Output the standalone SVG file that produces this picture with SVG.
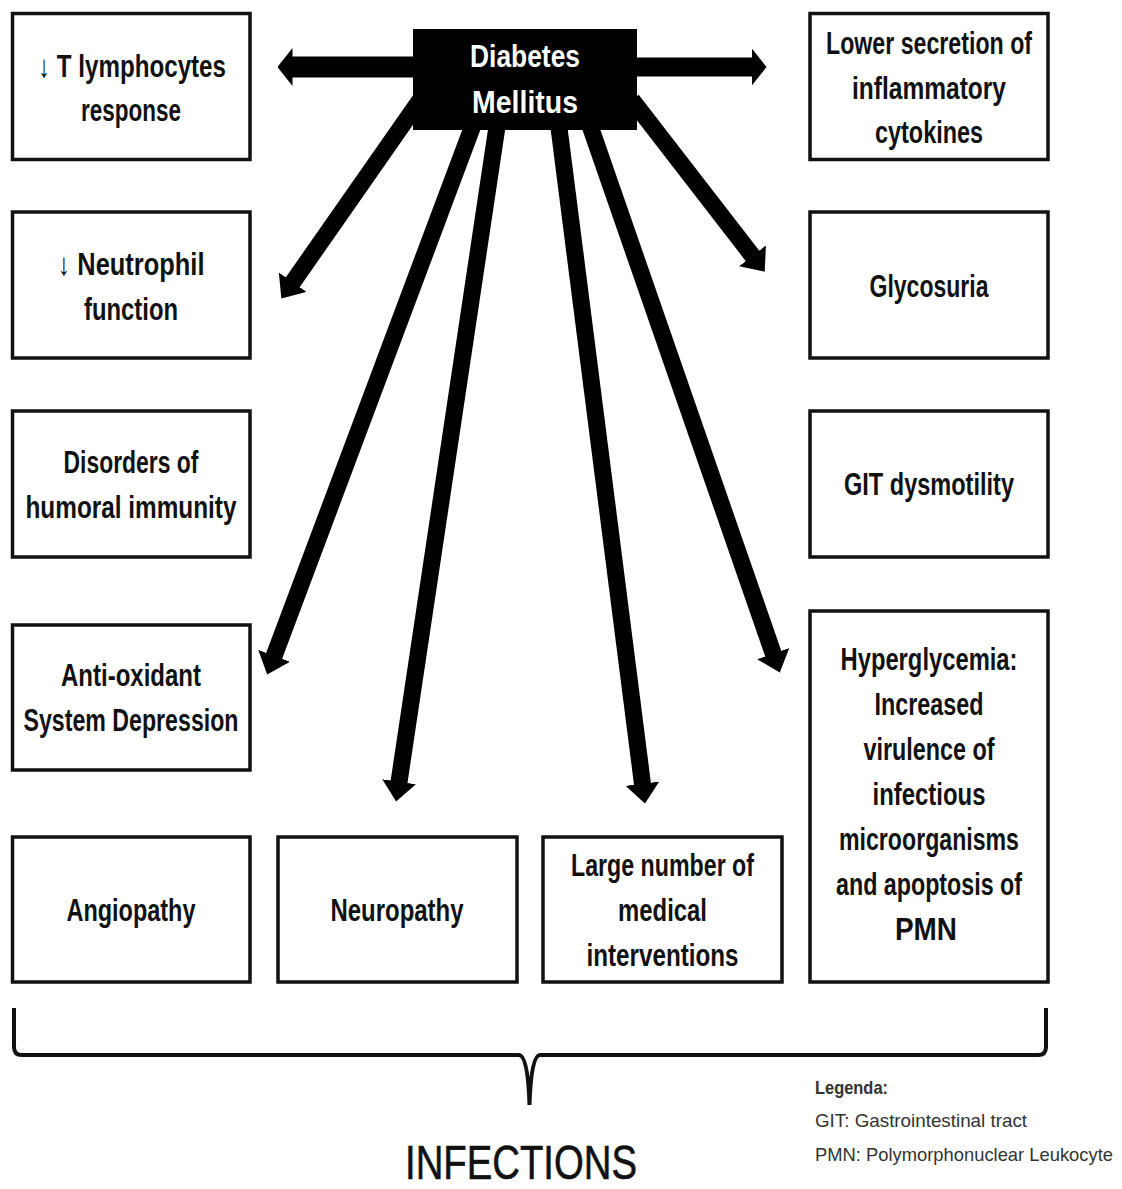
<svg xmlns="http://www.w3.org/2000/svg" width="1122" height="1189" viewBox="0 0 1122 1189">
<defs>
<style>
.box{fill:#fff;stroke:#111;stroke-width:3.5}
.lbl{font-family:"Liberation Sans Narrow","Liberation Sans",Arial,sans-serif;font-weight:bold;font-size:31px;fill:#111;text-anchor:middle}
.wl{fill:#fff;font-size:32px}
.arr{stroke:#000;fill:none}
.leg{font-family:"Liberation Sans Narrow","Liberation Sans",Arial,sans-serif;font-size:18.5px;fill:#333}
</style>
<marker id="hh" markerUnits="userSpaceOnUse" markerWidth="15" markerHeight="38" viewBox="0 0 15 38" refX="0.5" refY="19" orient="auto"><path d="M0,0 L15,19 L0,38 z" fill="#000"/></marker>
<marker id="hd" markerUnits="userSpaceOnUse" markerWidth="20" markerHeight="34" viewBox="0 0 20 34" refX="0.5" refY="17" orient="auto"><path d="M0,0 L20,17 L0,34 z" fill="#000"/></marker>
</defs>
<rect width="1122" height="1189" fill="#fff"/>

<g id="connectors">
<line class="arr" x1="415" y1="67" x2="292" y2="67" stroke-width="21" marker-end="url(#hh)"/>
<line class="arr" x1="635" y1="67" x2="752" y2="67" stroke-width="19" marker-end="url(#hh)"/>
<line class="arr" x1="420" y1="100" x2="292.5" y2="282.6" stroke-width="17" marker-end="url(#hd)"/>
<line class="arr" x1="475" y1="120" x2="274" y2="656.3" stroke-width="17" marker-end="url(#hd)"/>
<line class="arr" x1="498" y1="120" x2="399" y2="782.2" stroke-width="17" marker-end="url(#hd)"/>
<line class="arr" x1="558" y1="120" x2="642.5" y2="784.2" stroke-width="17" marker-end="url(#hd)"/>
<line class="arr" x1="588" y1="120" x2="773.4" y2="654.1" stroke-width="17" marker-end="url(#hd)"/>
<line class="arr" x1="632" y1="100" x2="752.8" y2="256.2" stroke-width="17" marker-end="url(#hd)"/>
</g>

<g id="dm">
<rect x="413" y="29" width="224" height="101" fill="#000"/>
<text class="lbl wl" x="525" y="67" textLength="110" lengthAdjust="spacingAndGlyphs">Diabetes</text>
<text class="lbl wl" x="525" y="113" textLength="106" lengthAdjust="spacingAndGlyphs">Mellitus</text>
</g>

<g id="tlymph">
<rect class="box" x="12.5" y="13.5" width="237.5" height="146"/>
<text class="lbl" x="132" y="77" textLength="188" lengthAdjust="spacingAndGlyphs">↓ T lymphocytes</text>
<text class="lbl" x="131" y="121" textLength="100" lengthAdjust="spacingAndGlyphs">response</text>
</g>

<g id="neutrophil">
<rect class="box" x="12.5" y="212" width="237.5" height="146"/>
<text class="lbl" x="131" y="275" textLength="147" lengthAdjust="spacingAndGlyphs">↓ Neutrophil</text>
<text class="lbl" x="131" y="320" textLength="94" lengthAdjust="spacingAndGlyphs">function</text>
</g>

<g id="humoral">
<rect class="box" x="12.5" y="411" width="237.5" height="146"/>
<text class="lbl" x="131" y="473" textLength="135" lengthAdjust="spacingAndGlyphs">Disorders of</text>
<text class="lbl" x="131" y="518" textLength="211" lengthAdjust="spacingAndGlyphs">humoral immunity</text>
</g>

<g id="antioxidant">
<rect class="box" x="12.5" y="625" width="237.5" height="145"/>
<text class="lbl" x="131" y="686" textLength="140" lengthAdjust="spacingAndGlyphs">Anti-oxidant</text>
<text class="lbl" x="131" y="731" textLength="215" lengthAdjust="spacingAndGlyphs">System Depression</text>
</g>

<g id="angiopathy">
<rect class="box" x="12.5" y="837" width="237.5" height="145"/>
<text class="lbl" x="131" y="921" textLength="129" lengthAdjust="spacingAndGlyphs">Angiopathy</text>
</g>

<g id="neuropathy">
<rect class="box" x="278" y="837" width="239" height="145"/>
<text class="lbl" x="397" y="921" textLength="133" lengthAdjust="spacingAndGlyphs">Neuropathy</text>
</g>

<g id="interventions">
<rect class="box" x="543" y="837" width="239" height="145"/>
<text class="lbl" x="662.5" y="876" textLength="183" lengthAdjust="spacingAndGlyphs">Large number of</text>
<text class="lbl" x="662.5" y="921" textLength="89" lengthAdjust="spacingAndGlyphs">medical</text>
<text class="lbl" x="662.5" y="966" textLength="152" lengthAdjust="spacingAndGlyphs">interventions</text>
</g>

<g id="cytokines">
<rect class="box" x="810" y="13.5" width="238" height="146"/>
<text class="lbl" x="929" y="54" textLength="206" lengthAdjust="spacingAndGlyphs">Lower secretion of</text>
<text class="lbl" x="929" y="99" textLength="154" lengthAdjust="spacingAndGlyphs">inflammatory</text>
<text class="lbl" x="929" y="143" textLength="108" lengthAdjust="spacingAndGlyphs">cytokines</text>
</g>

<g id="glycosuria">
<rect class="box" x="810" y="212" width="238" height="146"/>
<text class="lbl" x="929" y="297" textLength="119" lengthAdjust="spacingAndGlyphs">Glycosuria</text>
</g>

<g id="git">
<rect class="box" x="810" y="411" width="238" height="146"/>
<text class="lbl" x="929" y="495" textLength="170" lengthAdjust="spacingAndGlyphs">GIT dysmotility</text>
</g>

<g id="hyperglycemia">
<rect class="box" x="810" y="611" width="238" height="371"/>
<text class="lbl" x="929" y="670" textLength="177" lengthAdjust="spacingAndGlyphs">Hyperglycemia:</text>
<text class="lbl" x="929" y="715" textLength="109" lengthAdjust="spacingAndGlyphs">Increased</text>
<text class="lbl" x="929" y="760" textLength="131" lengthAdjust="spacingAndGlyphs">virulence of</text>
<text class="lbl" x="929" y="805" textLength="113" lengthAdjust="spacingAndGlyphs">infectious</text>
<text class="lbl" x="929" y="850" textLength="180" lengthAdjust="spacingAndGlyphs">microorganisms</text>
<text class="lbl" x="929" y="895" textLength="186" lengthAdjust="spacingAndGlyphs">and apoptosis of</text>
<text class="lbl" x="926" y="940" textLength="62" lengthAdjust="spacingAndGlyphs">PMN</text>
</g>

<g id="brace">
<path d="M14,1008 V1047 Q14,1055 22,1055 H519 Q528,1055 529.5,1105 Q531,1055 540,1055 H1038 Q1046,1055 1046,1047 V1008" fill="none" stroke="#111" stroke-width="4"/>
</g>

<g id="infections">
<text x="521" y="1179" font-family="Liberation Sans Narrow, Liberation Sans, Arial, sans-serif" font-size="49" fill="#111" stroke="#111" stroke-width="0.6" text-anchor="middle" textLength="232" lengthAdjust="spacingAndGlyphs">INFECTIONS</text>
</g>

<g id="legend">
<text class="leg" x="815" y="1094" font-weight="bold" fill="#111" textLength="73" lengthAdjust="spacingAndGlyphs">Legenda:</text>
<text class="leg" x="815" y="1127" textLength="212" lengthAdjust="spacingAndGlyphs">GIT: Gastrointestinal tract</text>
<text class="leg" x="815" y="1161" textLength="298" lengthAdjust="spacingAndGlyphs">PMN: Polymorphonuclear Leukocyte</text>
</g>
</svg>
